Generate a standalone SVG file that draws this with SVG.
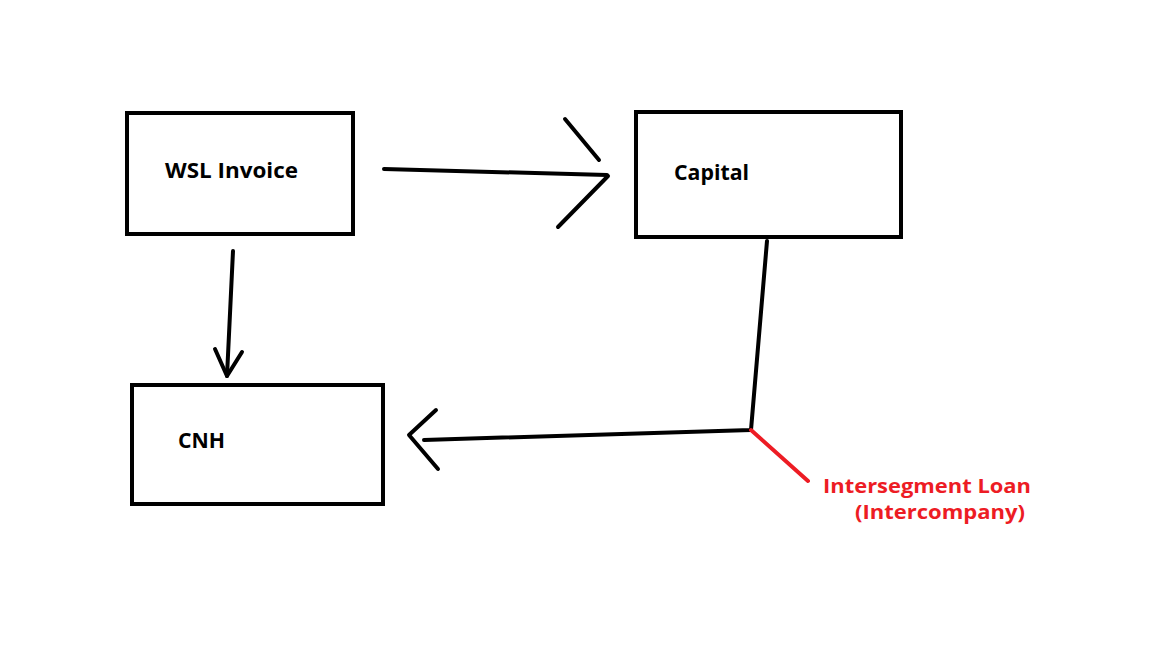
<svg xmlns="http://www.w3.org/2000/svg" width="1152" height="648" viewBox="0 0 1152 648">
<style>
.box{fill:#fff;stroke:#000;stroke-width:4}
.ln{fill:none;stroke:#000;stroke-width:4;stroke-linecap:round;stroke-linejoin:round}
.lbl{font-family:"Open Sans","Noto Sans",sans-serif;font-weight:bold;font-size:22px;fill:#000}
.red{font-family:"Open Sans","Noto Sans",sans-serif;font-weight:bold;font-size:20px;fill:#ed1c24}
</style>
<rect width="1152" height="648" fill="#fff"/>
<g id="wsl"><rect class="box" x="127" y="113" width="226" height="121"/><text class="lbl" x="165" y="178" textLength="133" lengthAdjust="spacingAndGlyphs">WSL Invoice</text></g>
<g id="capital"><rect class="box" x="636" y="112" width="265" height="125"/><text class="lbl" x="674" y="180" textLength="75" lengthAdjust="spacingAndGlyphs">Capital</text></g>
<g id="cnh"><rect class="box" x="132" y="385" width="251" height="119"/><text class="lbl" x="178" y="448" textLength="47" lengthAdjust="spacingAndGlyphs">CNH</text></g>
<g id="connectors">
<path class="ln" d="M384 169 L607 175"/>
<path class="ln" d="M565 119 L599 160 M558 227 L608 176"/>
<path class="ln" d="M233 251 L227 376"/>
<path class="ln" d="M215 349 L227 376 L242 352"/>
<path class="ln" d="M767 241 L751 430 L424 440"/>
<path class="ln" d="M436 410 L409 435 L438 469"/>
<path d="M751 430 L808 481" fill="none" stroke="#ed1c24" stroke-width="4" stroke-linecap="round"/>
</g>
<g id="note"><text class="red" x="823" y="493" textLength="208" lengthAdjust="spacingAndGlyphs">Intersegment Loan</text><text class="red" x="855" y="519" textLength="170" lengthAdjust="spacingAndGlyphs">(Intercompany)</text></g>
</svg>
